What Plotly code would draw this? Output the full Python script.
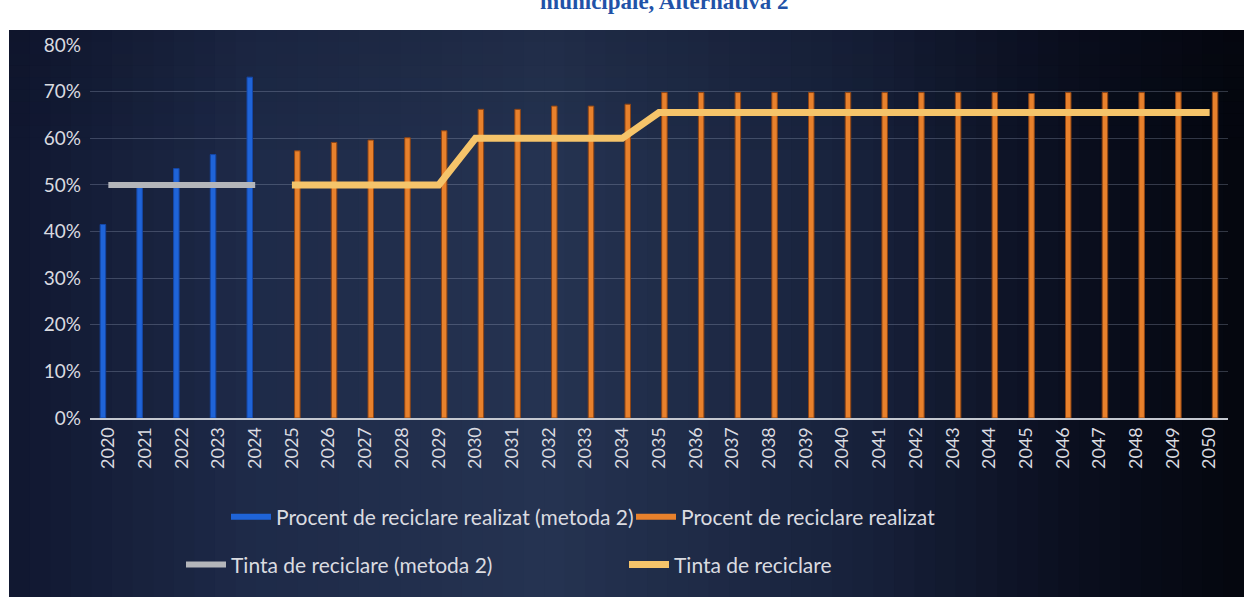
import plotly.graph_objects as go

years = [str(y) for y in range(2020, 2051)]

# Procent de reciclare realizat (metoda 2) - 2020..2024
realizat_m2 = [0.415, 0.495, 0.535, 0.565, 0.731]
# Procent de reciclare realizat - 2025..2050
realizat = [0.573, 0.591, 0.596, 0.601, 0.616, 0.662, 0.662, 0.669, 0.669, 0.673,
            0.698, 0.698, 0.698, 0.698, 0.698, 0.698, 0.698, 0.698, 0.698, 0.698,
            0.696, 0.698, 0.698, 0.698, 0.699, 0.699]
# Tinta de reciclare (metoda 2) - 2020..2024
tinta_m2 = [0.50, 0.50, 0.50, 0.50, 0.50]
# Tinta de reciclare - 2025..2050
tinta = [0.50, 0.50, 0.50, 0.50, 0.50, 0.60, 0.60, 0.60, 0.60, 0.60,
         0.655, 0.655, 0.655, 0.655, 0.655, 0.655, 0.655, 0.655, 0.655, 0.655,
         0.655, 0.655, 0.655, 0.655, 0.655, 0.655]

yrs_m2 = years[:5]
yrs = years[5:]

W, H = 1244, 597
L, R, T, B = 90, 16, 45, 176
PW, PH = W - L - R, H - T - B

def px(x):
    return (x - L) / PW

def py(y):
    return (H - B - y) / PH

fig = go.Figure()

BLUE = "#1f64d8"
ORANGE = "#e8812c"
GREY = "#b4b6ba"
YELLOW = "#f5c46a"
TXT = "#dadbe0"

fig.add_trace(go.Bar(x=yrs_m2, y=realizat_m2, name="Procent de reciclare realizat (metoda 2)",
                     marker=dict(color=BLUE, line=dict(color="#1547a6", width=1)),
                     width=0.15, offset=-0.223, showlegend=False, legendgroup="b1"))
fig.add_trace(go.Bar(x=yrs, y=realizat, name="Procent de reciclare realizat",
                     marker=dict(color=ORANGE, line=dict(color="#8f4514", width=1)),
                     width=0.15, offset=0.073, showlegend=False, legendgroup="b2"))
fig.add_trace(go.Scatter(x=yrs_m2, y=tinta_m2, name="Tinta de reciclare (metoda 2)", mode="lines",
                         line=dict(color=GREY, width=6), legend="legend2"))
fig.add_trace(go.Scatter(x=yrs, y=tinta, name="Tinta de reciclare", mode="lines",
                         line=dict(color=YELLOW, width=7), legend="legend2"))
# legend keys for the bar series (row 1)
fig.add_trace(go.Scatter(x=[None], y=[None], mode="lines", name="Procent de reciclare realizat (metoda 2)",
                         line=dict(color=BLUE, width=6), legendgroup="b1", legend="legend"))
fig.add_trace(go.Scatter(x=[None], y=[None], mode="lines", name="Procent de reciclare realizat",
                         line=dict(color=ORANGE, width=6), legendgroup="b2", legend="legend"))

# background: dark navy gradient panel
shapes = []
stops = [(9, (16, 23, 48)), (250, (30, 42, 72)), (550, (37, 51, 81)),
         (850, (24, 34, 60)), (1080, (10, 14, 30)), (1250, (4, 6, 14))]
N = 60
x0p = 9
for i in range(N):
    xa = x0p + (W - x0p) * i / N
    xb = x0p + (W - x0p) * (i + 1) / N + 1
    xm = (xa + xb) / 2
    for j in range(len(stops) - 1):
        if stops[j][0] <= xm <= stops[j + 1][0]:
            t = (xm - stops[j][0]) / (stops[j + 1][0] - stops[j][0])
            c = [round(stops[j][1][k] + t * (stops[j + 1][1][k] - stops[j][1][k])) for k in range(3)]
            break
    shapes.append(dict(type="rect", xref="paper", yref="paper", x0=px(xa), x1=px(xb + 4),
                       y0=py(H + 10), y1=py(30), fillcolor=f"rgb({c[0]},{c[1]},{c[2]})",
                       line=dict(width=0), layer="below"))
# darker top band
for i in range(10):
    ya = 30 + i * 12
    shapes.append(dict(type="rect", xref="paper", yref="paper", x0=px(9), x1=px(W + 10),
                       y0=py(ya + 12), y1=py(ya), fillcolor=f"rgba(5,8,20,{0.15*(10-i)/10:.3f})",
                       line=dict(width=0), layer="below"))
fig.update_layout(shapes=shapes)

fig.add_annotation(text="<b>municipale, Alternativa 2</b>", xref="paper", yref="paper",
                   x=px(664), y=py(16), xanchor="center", yanchor="bottom", showarrow=False,
                   font=dict(family="Liberation Serif", size=23, color="#2152a8"))

fig.update_layout(
    width=W, height=H,
    margin=dict(l=L, r=R, t=T, b=B),
    paper_bgcolor="white",
    plot_bgcolor="rgba(0,0,0,0)",
    barmode="overlay",
    font=dict(family="Lato", size=19, color=TXT),
    xaxis=dict(type="category", categoryorder="array", categoryarray=years,
               tickangle=-90, showgrid=False, showline=True, linecolor="#c4c8d0", linewidth=2,
               ticks="", tickfont=dict(size=18, color=TXT)),
    yaxis=dict(range=[0, 0.8], dtick=0.1, tickformat=".0%", showgrid=True,
               gridcolor="rgba(170,180,205,0.28)", gridwidth=1, zeroline=False,
               ticks="", ticklabelstandoff=8, tickfont=dict(size=19, color=TXT)),
    legend=dict(orientation="h", x=px(226), y=py(521), xanchor="left", yanchor="middle",
                bgcolor="rgba(0,0,0,0)", font=dict(size=21, color=TXT), itemwidth=40,
                entrywidth=350),
    legend2=dict(orientation="h", x=px(181), y=py(569), xanchor="left", yanchor="middle",
                 bgcolor="rgba(0,0,0,0)", font=dict(size=21, color=TXT), itemwidth=40,
                 entrywidth=388),
)

fig.write_html("out.html", config={"displayModeBar": False},
               post_script="document.body.style.margin='0';")
